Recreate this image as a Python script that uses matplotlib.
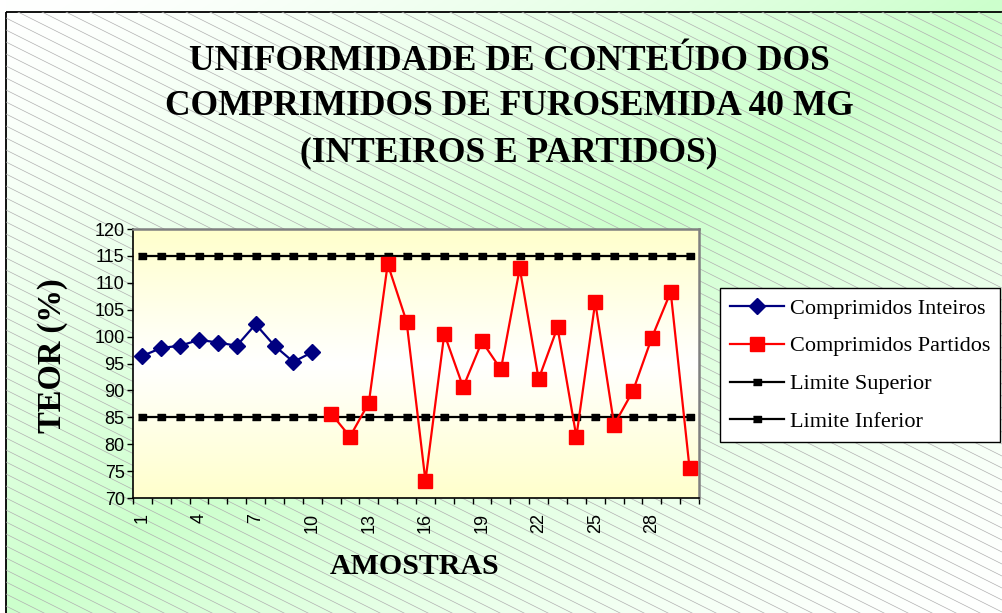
"""
Uniformidade de conteúdo dos comprimidos de furosemida 40 mg:
teor (%) das amostras inteiras e partidas com os limites de 85 % e 115 %.
"""

import matplotlib

matplotlib.use("Agg")

import matplotlib.pyplot as plt
import numpy as np
from matplotlib.patches import Rectangle


# ---------------------------------------------------------------------
# Data
# ---------------------------------------------------------------------

SAMPLES = list(range(1, 31))

WHOLE_SAMPLES = list(range(1, 11))
WHOLE_CONTENT = [96.4, 97.9, 98.3, 99.4, 98.9, 98.3, 102.3, 98.3, 95.3, 97.1]

SPLIT_SAMPLES = list(range(11, 31))
SPLIT_CONTENT = [
    85.7, 81.4, 87.7, 113.5, 102.8, 73.2, 100.5, 90.6, 99.1, 93.9,
    112.7, 92.1, 101.7, 81.4, 106.4, 83.6, 89.9, 99.8, 108.3, 75.5,
]

UPPER_LIMIT = [115] * len(SAMPLES)
LOWER_LIMIT = [85] * len(SAMPLES)

SERIES_LABELS = [
    "Comprimidos Inteiros",
    "Comprimidos Partidos",
    "Limite Superior",
    "Limite Inferior",
]

Y_TICKS = list(range(70, 121, 5))
X_TICK_LABELS = list(range(1, 30, 3))

TITLE_LINES = [
    "UNIFORMIDADE DE CONTEÚDO DOS",
    "COMPRIMIDOS DE FUROSEMIDA 40 MG",
    "(INTEIROS E PARTIDOS)",
]
X_LABEL = "AMOSTRAS"
Y_LABEL = "TEOR (%)"


# ---------------------------------------------------------------------
# Layout (pixels)
# ---------------------------------------------------------------------

FIG_W, FIG_H = 1002, 613
PLOT_LEFT, PLOT_RIGHT, PLOT_TOP, PLOT_BOTTOM = 133, 699, 229, 498

SERIF = "Liberation Serif"
SANS = "Liberation Sans"


def fx(px):
    return px / FIG_W


def fy(py):
    return 1 - py / FIG_H


def draw_background(fig):
    """Green diagonal gradient with a thin hatch, framed in black."""

    bg = fig.add_axes([0, 0, 1, 1], zorder=-10)
    bg.set_xlim(0, FIG_W)
    bg.set_ylim(FIG_H, 0)
    bg.axis("off")

    yy, xx = np.mgrid[0:FIG_H:2, 0:FIG_W:2]
    diag = xx / FIG_W + yy / FIG_H
    weight = np.clip(1 - np.abs(diag - 1), 0, 1) ** 1.5
    green = np.array([0.80, 1.0, 0.80])
    img = 1 - weight[..., None] * (1 - green)
    bg.imshow(img, extent=(0, FIG_W, FIG_H, 0), aspect="auto",
              interpolation="bilinear")

    bg.add_patch(Rectangle((0, 0), 6, FIG_H, facecolor="white",
                           edgecolor="none"))

    frame = Rectangle((6, 12), FIG_W + 10, FIG_H + 10, facecolor="none",
                      edgecolor="black", linewidth=1.3)
    bg.add_patch(frame)

    xs = np.array([0, FIG_W])
    for offset in np.arange(-FIG_W * 0.5, FIG_H, 12):
        line, = bg.plot(xs, offset + 0.5 * xs, color="#b0b0b0",
                        linewidth=0.5)
        line.set_clip_path(frame)


def main() -> None:
    fig = plt.figure(figsize=(FIG_W / 100, FIG_H / 100), dpi=100)
    draw_background(fig)

    ax = fig.add_axes([
        fx(PLOT_LEFT),
        fy(PLOT_BOTTOM),
        (PLOT_RIGHT - PLOT_LEFT) / FIG_W,
        (PLOT_BOTTOM - PLOT_TOP) / FIG_H,
    ])

    # pale yellow plot area, lighter in the middle
    shade = np.abs(np.linspace(-1, 1, 200))[:, None]
    area = np.ones((200, 1, 3))
    area[..., 2] = 1 - 0.2 * shade
    ax.imshow(area, extent=(0.5, 30.5, 70, 120), aspect="auto",
              interpolation="bilinear", zorder=0)

    limit_marker = [(-1.4, -1), (1.4, -1), (1.4, 1), (-1.4, 1)]

    whole, = ax.plot(WHOLE_SAMPLES, WHOLE_CONTENT, color="#000080",
                     linewidth=1.6, marker="D", markersize=8.5, zorder=4)
    split, = ax.plot(SPLIT_SAMPLES, SPLIT_CONTENT, color="#ff0000",
                     linewidth=1.6, marker="s", markersize=10, zorder=4)
    upper, = ax.plot(SAMPLES, UPPER_LIMIT, color="black", linewidth=1.6,
                     marker=limit_marker, markersize=5.5, zorder=3)
    lower, = ax.plot(SAMPLES, LOWER_LIMIT, color="black", linewidth=1.6,
                     marker=limit_marker, markersize=5.5, zorder=3)

    ax.set_xlim(0.5, 30.5)
    ax.set_ylim(70, 120)

    ax.set_yticks(Y_TICKS)
    ax.tick_params(axis="y", direction="out", length=4, width=1,
                   labelsize=13, pad=2)

    ax.set_xticks(X_TICK_LABELS)
    ax.set_xticklabels([str(v) for v in X_TICK_LABELS], rotation=90)
    ax.set_xticks(np.arange(0.5, 31, 1), minor=True)
    ax.tick_params(axis="x", which="major", length=0, labelsize=13, pad=11)
    ax.tick_params(axis="x", which="minor", direction="out", length=4,
                   width=1)

    for label in ax.get_xticklabels() + ax.get_yticklabels():
        label.set_fontfamily(SANS)

    for side in ("left", "bottom"):
        ax.spines[side].set_color("black")
        ax.spines[side].set_linewidth(1.2)
    for side in ("top", "right"):
        ax.spines[side].set_color("#808080")
        ax.spines[side].set_linewidth(1.8)

    baselines = [69.5, 115, 161]
    for text, base in zip(TITLE_LINES, baselines):
        fig.text(fx(509), fy(base), text, ha="center", va="baseline",
                 fontsize=25.5, fontweight="bold", fontfamily=SERIF)

    fig.text(fx(415), fy(567), X_LABEL, ha="center", va="center",
             fontsize=21.5, fontweight="bold", fontfamily=SERIF)
    fig.text(fx(52), fy(356), Y_LABEL, ha="center", va="center",
             rotation=90, fontsize=23.5, fontweight="bold", fontfamily=SERIF)

    legend = fig.legend(
        [whole, split, upper, lower],
        SERIES_LABELS,
        loc="upper left",
        bbox_to_anchor=(fx(720), fy(288)),
        prop={"family": SERIF, "size": 16},
        frameon=True,
        fancybox=False,
        framealpha=1,
        edgecolor="black",
        facecolor="white",
        numpoints=1,
        handlelength=2.45,
        handletextpad=0.25,
        borderpad=0.45,
        labelspacing=0.78,
        borderaxespad=0,
    )
    legend.get_frame().set_linewidth(1.0)

    fig.savefig("out.png", dpi=100)
    plt.close(fig)


if __name__ == "__main__":
    main()
